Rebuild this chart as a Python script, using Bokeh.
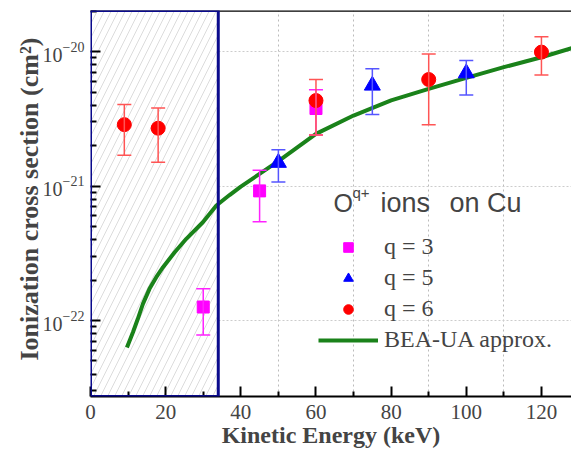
from bokeh.plotting import figure
from bokeh.models import (BoxAnnotation, Span, Whisker, ColumnDataSource, Legend, LegendItem,
                          FixedTicker, Label, TeeHead, Title)
from bokeh.embed import file_html
from bokeh.resources import INLINE

# ---- data ----
q6_x = [9, 18, 60, 90, 120]
q6_y = [2.86e-21, 2.69e-21, 4.32e-21, 6.19e-21, 9.9e-21]
q6_lo = [1.69e-21, 1.50e-21, 2.40e-21, 2.86e-21, 6.7e-21]
q6_hi = [4.04e-21, 3.81e-21, 6.2e-21, 9.6e-21, 1.29e-20]

q5_x = [50, 75, 100]
q5_y = [1.49e-21, 5.59e-21, 6.9e-21]
q5_lo = [1.07e-21, 3.40e-21, 4.76e-21]
q5_hi = [1.86e-21, 7.44e-21, 8.57e-21]

q3_x = [30, 45, 60]
q3_y = [1.26e-22, 9.2e-22, 3.77e-21]
q3_lo = [7.8e-23, 5.43e-22, 2.40e-21]
q3_hi = [1.72e-22, 1.31e-21, 5.19e-21]

bea_x = [9.7, 11.3, 12.6, 13.95, 15.7, 17.5, 19.3, 22.4, 25.5, 29.9, 33.5, 37, 40,
         50, 60, 70, 80, 90, 100, 110, 120, 130]
bea_y = [6.3e-23, 8.18e-23, 1.03e-22, 1.33e-22, 1.72e-22, 2.10e-22, 2.49e-22, 3.22e-22,
         4.05e-22, 5.38e-22, 7.16e-22, 8.57e-22, 9.9e-22, 1.53e-21, 2.44e-21, 3.34e-21,
         4.33e-21, 5.28e-21, 6.37e-21, 7.65e-21, 9.07e-21, 1.1e-20]

x_ticks = [0, 20, 40, 60, 80, 100, 120]
x_grid = [10, 30, 50, 70, 90, 110]
y_ticks = [1e-22, 1e-21, 1e-20]
shaded_region = (0, 34)

SERIF = "Liberation Serif"
SANS = "Liberation Sans"

p = figure(width=571, height=457, x_range=(0, 128), y_range=(10**-22.565, 10**-19.695),
           y_axis_type="log", output_backend="svg", toolbar_location=None,
           min_border_left=90, min_border_right=0, min_border_top=10, min_border_bottom=61)
p.outline_line_color = None
p.background_fill_color = "white"

# hatched region (underlay) + navy border (above axes)
p.add_layout(BoxAnnotation(left=shaded_region[0], right=shaded_region[1], fill_color="white",
                           fill_alpha=1, hatch_pattern="/", hatch_color="#dcdcdc", hatch_scale=14,
                           hatch_weight=1, line_color=None, level="underlay"))

# grids
p.xgrid.ticker = FixedTicker(ticks=x_grid)
p.xgrid.grid_line_color = "#bbbbbb"
p.xgrid.grid_line_dash = "2 3"
p.xgrid.grid_line_width = 1
p.ygrid.ticker = FixedTicker(ticks=y_ticks)
p.ygrid.grid_line_color = "#cccccc"
p.ygrid.grid_line_dash = "2 2"
p.ygrid.grid_line_width = 1

# axes
xa = p.xaxis[0]
xa.ticker = FixedTicker(ticks=x_ticks, minor_ticks=x_grid)
xa.axis_line_color = "black"
xa.axis_line_width = 2
xa.major_tick_in = 10
xa.major_tick_out = 0
xa.minor_tick_in = 5
xa.minor_tick_out = 0
xa.major_tick_line_width = 2
xa.minor_tick_line_width = 2
xa.major_label_text_font = SERIF
xa.major_label_text_font_size = "21px"
xa.major_label_standoff = 8
xa.axis_label = "Kinetic Energy (keV)"
xa.axis_label_text_font = SERIF
xa.axis_label_text_font_style = "bold"
xa.axis_label_text_font_size = "24px"
xa.axis_label_standoff = 0

ya = p.yaxis[0]
ya.ticker = FixedTicker(ticks=y_ticks, minor_ticks=[m * 10.0**e for e in (-23, -22, -21, -20) for m in range(2, 10)])
ya.axis_line_color = None
ya.major_tick_in = 10
ya.major_tick_out = 0
ya.minor_tick_in = 6
ya.minor_tick_out = 0
ya.major_tick_line_width = 2
ya.minor_tick_line_width = 2
ya.major_label_text_font = SERIF
ya.major_label_text_font_size = "20px"
ya.major_label_standoff = 6

# y axis title (as a side title so it can be shifted upward)
p.add_layout(Title(text="Ionization cross section (cm\u00b2)", text_font=SERIF,
                   text_font_style="bold", text_font_size="26px", align="left", offset=36,
                   standoff=-8), "left")

# top border line
p.add_layout(Span(location=10**-19.695, dimension="width", line_color="black", line_width=2.5))

# curve
bea = p.line(bea_x, bea_y, line_color="#1a821a", line_width=4)

# error bars and markers
def series(xs, ys, lo, hi, bar_color, fill, marker, size):
    src = ColumnDataSource(dict(x=xs, y=ys, lo=lo, hi=hi))
    w = Whisker(base="x", lower="lo", upper="hi", source=src, line_color=bar_color, line_width=1.5,
                upper_head=TeeHead(size=14, line_color=bar_color, line_width=1.5),
                lower_head=TeeHead(size=14, line_color=bar_color, line_width=1.5), level="glyph")
    p.add_layout(w)
    return p.scatter("x", "y", source=src, marker=marker, size=size, fill_color=fill, line_color=fill)

r3 = series(q3_x, q3_y, q3_lo, q3_hi, "#ff22ff", "#ff00ff", "square", 12)
r5 = series(q5_x, q5_y, q5_lo, q5_hi, "#5555ff", "#0000ff", "triangle", 16)
r6 = series(q6_x, q6_y, q6_lo, q6_hi, "#ff5555", "#ff0000", "circle", 14)

# navy box border on top
p.add_layout(BoxAnnotation(left=shaded_region[0], right=shaded_region[1], fill_color=None,
                           line_color="#0a0a8c", line_alpha=1, line_width=3, level="overlay"))

legend = Legend(items=[LegendItem(label="q = 3", renderers=[r3]),
                       LegendItem(label="q = 5", renderers=[r5]),
                       LegendItem(label="q = 6", renderers=[r6]),
                       LegendItem(label="BEA-UA approx.", renderers=[bea])],
                location=(228, 43), background_fill_alpha=0, border_line_color=None,
                label_text_font=SERIF, label_text_font_size="24px", label_height=24,
                glyph_height=24, glyph_width=60, spacing=4, padding=0, margin=0, label_standoff=6)
p.add_layout(legend)

p.add_layout(Label(x=243, y=194, x_units="screen", y_units="screen", text="O",
                   text_font=SANS, text_font_size="25px", text_baseline="alphabetic"))
p.add_layout(Label(x=262, y=204, x_units="screen", y_units="screen", text="q+",
                   text_font=SANS, text_font_size="15px", text_baseline="alphabetic"))
p.add_layout(Label(x=290, y=194, x_units="screen", y_units="screen", text="ions",
                   text_font=SANS, text_font_size="27px", text_baseline="alphabetic"))
p.add_layout(Label(x=359, y=194, x_units="screen", y_units="screen", text="on Cu",
                   text_font=SANS, text_font_size="27px", text_baseline="alphabetic"))

open("out.html", "w").write(file_html(p, INLINE))
